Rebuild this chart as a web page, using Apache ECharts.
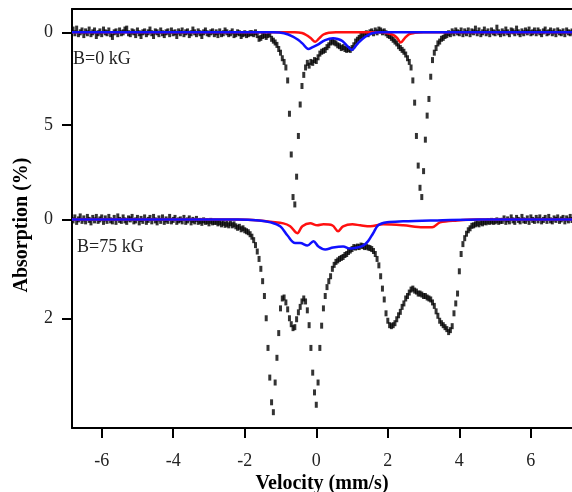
<!DOCTYPE html>
<html>
<head>
<meta charset="utf-8">
<title>Mossbauer spectra</title>
<style>
  html, body { margin: 0; padding: 0; background: #fff; }
  #chart { width: 572px; height: 492px; }
</style>
<script src="https://cdn.jsdelivr.net/npm/echarts@6/dist/echarts.min.js"></script>
</head>
<body>
<div id="chart"></div>
<script>
// velocity channels: start and step (mm/s)
var vStart = -6.8, vStep = 0.05;

// B = 0 kG, absorption (%) per channel, one row per 1 mm/s
var absTop = [
  -0.15, 0.05, -0.2, 0.1, 0, -0.1, 0.15, -0.05, 0.05, -0.15, 0.1, 0, -0.1, 0.2, 0.05, -0.05, 0.1, -0.15, 0, 0.05,
  -0.1, 0.1, 0.25, 0, -0.05, 0.1, -0.1, 0.05, 0, -0.15, -0.2, 0.05, 0.1, -0.05, 0, 0.15, -0.1, 0.05, 0.2, 0,
  -0.05, 0.1, 0, -0.15, 0.05, 0.2, -0.05, 0, 0.1, -0.1, 0.05, 0.15, 0, -0.05, 0.1, -0.1, 0.05, 0, 0.2, -0.05,
  0.05, -0.1, 0.1, 0, -0.05, 0.15, 0.05, -0.15, 0, 0.1, -0.05, 0.05, 0.2, 0, -0.1, 0.05, 0.1, 0, -0.05, 0.1,
  0, 0.15, -0.05, 0.1, 0.05, -0.1, 0, 0.1, 0.05, -0.05, 0.15, 0.1, 0, 0.05, 0.2, 0.1, 0.05, 0.15, 0.1, 0.05,
  0.05, 0.1, 0, 0.15, 0.35, 0.3, 0.2, 0.15, 0.25, 0.15, 0.1, 0.35, 0.45, 0.55, 0.68, 0.9, 1.1, 1.4, 1.6, 1.9,
  2.6, 4.4, 6.6, 8.9, 9.3, 7.8, 5.6, 3.9, 2.9, 2.3, 1.9, 1.65, 1.8, 1.6, 1.65, 1.5, 1.55, 1.35, 1.15, 1.05,
  1.0, 0.95, 0.8, 0.7, 0.55, 0.5, 0.55, 0.6, 0.7, 0.75, 0.85, 0.8, 0.9, 0.95, 0.9, 0.95, 0.85, 0.7, 0.5, 0.4,
  0.3, 0.2, 0.15, 0.1, 0.05, 0.1, 0, -0.05, 0.05, -0.1, 0, -0.15, -0.1, 0, -0.05, 0.05, 0.15, 0.2, 0.3, 0.4,
  0.5, 0.6, 0.75, 0.85, 0.95, 1.05, 1.2, 1.4, 1.6, 1.9, 2.6, 3.8, 5.6, 7.2, 8.4, 8.9, 7.5, 5.8, 4.5, 3.6,
  2.4, 1.5, 1.1, 0.85, 0.6, 0.5, 0.35, 0.3, 0.2, 0.15, 0.05, 0.1, -0.05, 0.05, -0.1, 0, 0.05, -0.1, 0.1, -0.05,
  0.05, -0.1, 0.1, -0.05, 0, -0.2, 0.05, -0.1, 0.1, 0, -0.15, 0.05, -0.05, 0.1, -0.1, 0, 0.05, -0.25, 0, 0.1,
  -0.05, 0.05, -0.15, 0, 0.1, -0.1, -0.05, 0.05, -0.2, 0, 0.1, -0.05, 0.05, -0.1, 0, -0.15, 0.05, 0, -0.1, 0.05,
  -0.1, 0, 0.1, -0.05, -0.15, 0.05, 0, -0.1, 0.05, -0.05, 0.1, -0.1, 0, 0.05, -0.05, 0.1, -0.1, 0, 0.05, -0.05
];

// B = 75 kG
var absBottom = [
  0.02, -0.04, 0.05, 0, -0.06, 0.03, -0.02, 0.04, -0.05, 0.01, 0.06, -0.03, 0.02, -0.05, 0.03, 0, -0.04, 0.05, -0.02, 0.03,
  -0.05, 0.02, 0.04, -0.03, 0.05, -0.06, 0.01, 0.03, -0.04, 0.02, 0.05, -0.02, 0, -0.05, 0.04, 0.02, -0.03, 0.06, -0.01, 0.03,
  -0.04, 0.05, 0.01, -0.03, 0.04, -0.05, 0.02, 0.06, -0.02, 0.03, -0.04, 0.05, 0, 0.03, -0.05, 0.04, 0.01, -0.03, 0.05, 0.02,
  0, 0.04, -0.03, 0.05, 0.02, -0.02, 0.06, 0.01, 0.04, -0.01, 0.05, 0.03, 0.07, 0.02, 0.05, 0.04, 0.08, 0.03, 0.06, 0.05,
  0.05, 0.08, 0.06, 0.1, 0.07, 0.11, 0.09, 0.12, 0.08, 0.12, 0.1, 0.14, 0.17, 0.15, 0.2, 0.18, 0.22, 0.24, 0.26, 0.3,
  0.35, 0.42, 0.52, 0.65, 0.8, 1.0, 1.25, 1.55, 2.0, 2.6, 3.2, 3.7, 3.9, 3.3, 2.8, 2.3, 1.8, 1.6, 1.58, 1.68,
  1.82, 2.0, 2.12, 2.2, 2.18, 2.02, 1.88, 1.77, 1.66, 1.6, 1.66, 1.84, 2.14, 2.6, 3.1, 3.5, 3.75, 3.3, 2.6, 2.15,
  1.8, 1.55, 1.37, 1.25, 1.15, 1.0, 0.92, 0.86, 0.83, 0.8, 0.78, 0.76, 0.72, 0.7, 0.66, 0.63, 0.6, 0.56, 0.57, 0.55,
  0.56, 0.53, 0.54, 0.56, 0.55, 0.57, 0.58, 0.6, 0.64, 0.7, 0.8, 0.93, 1.15, 1.4, 1.62, 1.9, 2.05, 2.14, 2.16, 2.14,
  2.1, 2.02, 1.94, 1.87, 1.77, 1.7, 1.6, 1.55, 1.48, 1.42, 1.4, 1.44, 1.46, 1.5, 1.5, 1.52, 1.55, 1.55, 1.58, 1.6,
  1.62, 1.68, 1.75, 1.86, 1.95, 2.05, 2.1, 2.14, 2.18, 2.22, 2.28, 2.24, 2.16, 1.9, 1.7, 1.5, 1.05, 0.7, 0.5, 0.38,
  0.29, 0.22, 0.18, 0.13, 0.12, 0.1, 0.08, 0.1, 0.06, 0.08, 0.05, 0.06, 0.04, 0.05, 0.03, 0.05, 0.04, 0.02, 0.05, 0.03,
  0.03, -0.02, 0.05, 0, 0.04, -0.04, 0.02, 0.05, -0.03, 0.01, 0.04, -0.05, 0.02, 0.03, -0.02, 0.05, -0.04, 0.01, 0.03, -0.03,
  0.02, -0.04, 0.04, 0.01, -0.03, 0.03, -0.05, 0.02, 0.04, -0.02, 0.01, -0.04, 0.03, 0, -0.03, 0.04, -0.02, 0.02, -0.05, 0.01
];

// fitted components [velocity, absorption]
var redTop = [[-6.83, 0], [-0.6, 0], [-0.4, 0.04], [-0.25, 0.18], [-0.15, 0.32], [-0.03, 0.51], [0.08, 0.33],
  [0.2, 0.12], [0.35, 0.02], [0.55, 0], [1.8, 0], [2.0, 0.05], [2.15, 0.14], [2.26, 0.3], [2.36, 0.55],
  [2.48, 0.3], [2.6, 0.1], [2.75, 0.03], [3.0, 0], [7.15, 0]];
var blueTop = [[-6.83, 0], [-1.2, 0], [-0.9, 0.05], [-0.64, 0.24], [-0.5, 0.42], [-0.39, 0.6], [-0.22, 0.9],
  [-0.1, 0.8], [0.03, 0.68], [0.25, 0.42], [0.47, 0.32], [0.6, 0.36], [0.73, 0.47], [0.89, 0.78], [1.0, 0.95],
  [1.1, 0.75], [1.17, 0.58], [1.37, 0.24], [1.56, 0.05], [1.8, 0], [7.15, 0]];
var redBottom = [[-6.83, 0], [-2.2, 0], [-1.6, 0.02], [-1.28, 0.05], [-0.92, 0.08], [-0.73, 0.14], [-0.53, 0.28],
  [-0.39, 0.14], [-0.17, 0.08], [0.03, 0.12], [0.2, 0.1], [0.45, 0.12], [0.61, 0.24], [0.75, 0.14], [1.01, 0.1],
  [1.23, 0.12], [1.51, 0.14], [1.87, 0.1], [2.43, 0.12], [2.99, 0.16], [3.24, 0.16], [3.46, 0.06], [3.94, 0.02],
  [4.5, 0], [7.15, 0]];
var blueBottom = [[-6.83, 0], [-2.2, 0], [-1.6, 0.02], [-1.28, 0.06], [-1.01, 0.14], [-0.81, 0.32], [-0.59, 0.48],
  [-0.45, 0.48], [-0.25, 0.53], [-0.08, 0.44], [0.06, 0.55], [0.25, 0.61], [0.47, 0.57], [0.75, 0.55], [0.95, 0.59],
  [1.15, 0.57], [1.31, 0.53], [1.45, 0.44], [1.59, 0.28], [1.73, 0.12], [1.98, 0.06], [2.43, 0.04], [3.38, 0.02],
  [4.58, 0], [7.15, 0]];

var xTicks = [-6, -4, -2, 0, 2, 4, 6];
var yTicksTop = [0, 5];
var yTicksBottom = [0, 2];

function channels(arr) {
  return arr.map(function (a, i) { return [+(vStart + i * vStep).toFixed(2), a]; });
}

var serif = '"Liberation Serif", "DejaVu Serif", serif';
function line() { return { show: true, onZero: false, lineStyle: { color: '#000', width: 2 } }; }
function ticks(vals) { return { show: true, length: 10, lineStyle: { color: '#000', width: 2 }, customValues: vals }; }
function labels(vals, margin) {
  return { customValues: vals, margin: margin, fontFamily: serif, fontSize: 18, color: '#222' };
}

function yAxis(idx, min, max, vals) {
  return {
    gridIndex: idx, type: 'value', inverse: true, min: min, max: max,
    axisLine: line(), axisTick: ticks(vals), axisLabel: labels(vals, 19),
    splitLine: { show: false }
  };
}

function dots(data, idx) {
  return { type: 'scatter', xAxisIndex: idx, yAxisIndex: idx, data: data, symbol: 'rect',
    symbolSize: [3, 6], itemStyle: { color: '#000' }, silent: true, z: 2 };
}
function fit(data, idx, color) {
  return { type: 'line', xAxisIndex: idx, yAxisIndex: idx, data: data, smooth: 0.35, showSymbol: false,
    lineStyle: { color: color, width: 2.5 }, silent: true, z: 3 };
}

var chart = echarts.init(document.getElementById('chart'));
chart.setOption({
  animation: false,
  grid: [
    { left: 72, right: 0, top: 9, height: 201, containLabel: false, outerBoundsMode: 'none' },
    { left: 72, right: 0, top: 210, height: 218, containLabel: false, outerBoundsMode: 'none' }
  ],
  xAxis: [
    { gridIndex: 0, type: 'value', min: -6.83, max: 7.15, position: 'top',
      axisLine: line(), axisTick: { show: false }, axisLabel: { show: false }, splitLine: { show: false } },
    { gridIndex: 1, type: 'value', min: -6.83, max: 7.15,
      axisLine: line(), axisTick: ticks(xTicks), axisLabel: labels(xTicks, 24),
      splitLine: { show: false },
      name: 'Velocity (mm/s)', nameLocation: 'middle', nameGap: 46,
      nameTextStyle: { fontFamily: serif, fontWeight: 'bold', fontSize: 20, color: '#000' } }
  ],
  yAxis: [
    yAxis(0, -1.26, 9.6, yTicksTop),
    yAxis(1, -0.19, 4.22, yTicksBottom)
  ],
  graphic: [
    { type: 'text', left: 73, top: 50, style: { text: 'B=0 kG', font: '18px ' + serif, fill: '#222' } },
    { type: 'text', left: 77, top: 238, style: { text: 'B=75 kG', font: '18px ' + serif, fill: '#222' } },
    { type: 'text', x: 22, y: 225, rotation: Math.PI / 2,
      style: { text: 'Absorption (%)', font: 'bold 20px ' + serif, fill: '#000', align: 'center', verticalAlign: 'middle' } }
  ],
  series: [
    dots(channels(absTop), 0),
    fit(redTop, 0, '#ff1010'),
    fit(blueTop, 0, '#1010ff'),
    dots(channels(absBottom), 1),
    fit(redBottom, 1, '#ff1010'),
    fit(blueBottom, 1, '#1010ff')
  ]
});
</script>
</body>
</html>
